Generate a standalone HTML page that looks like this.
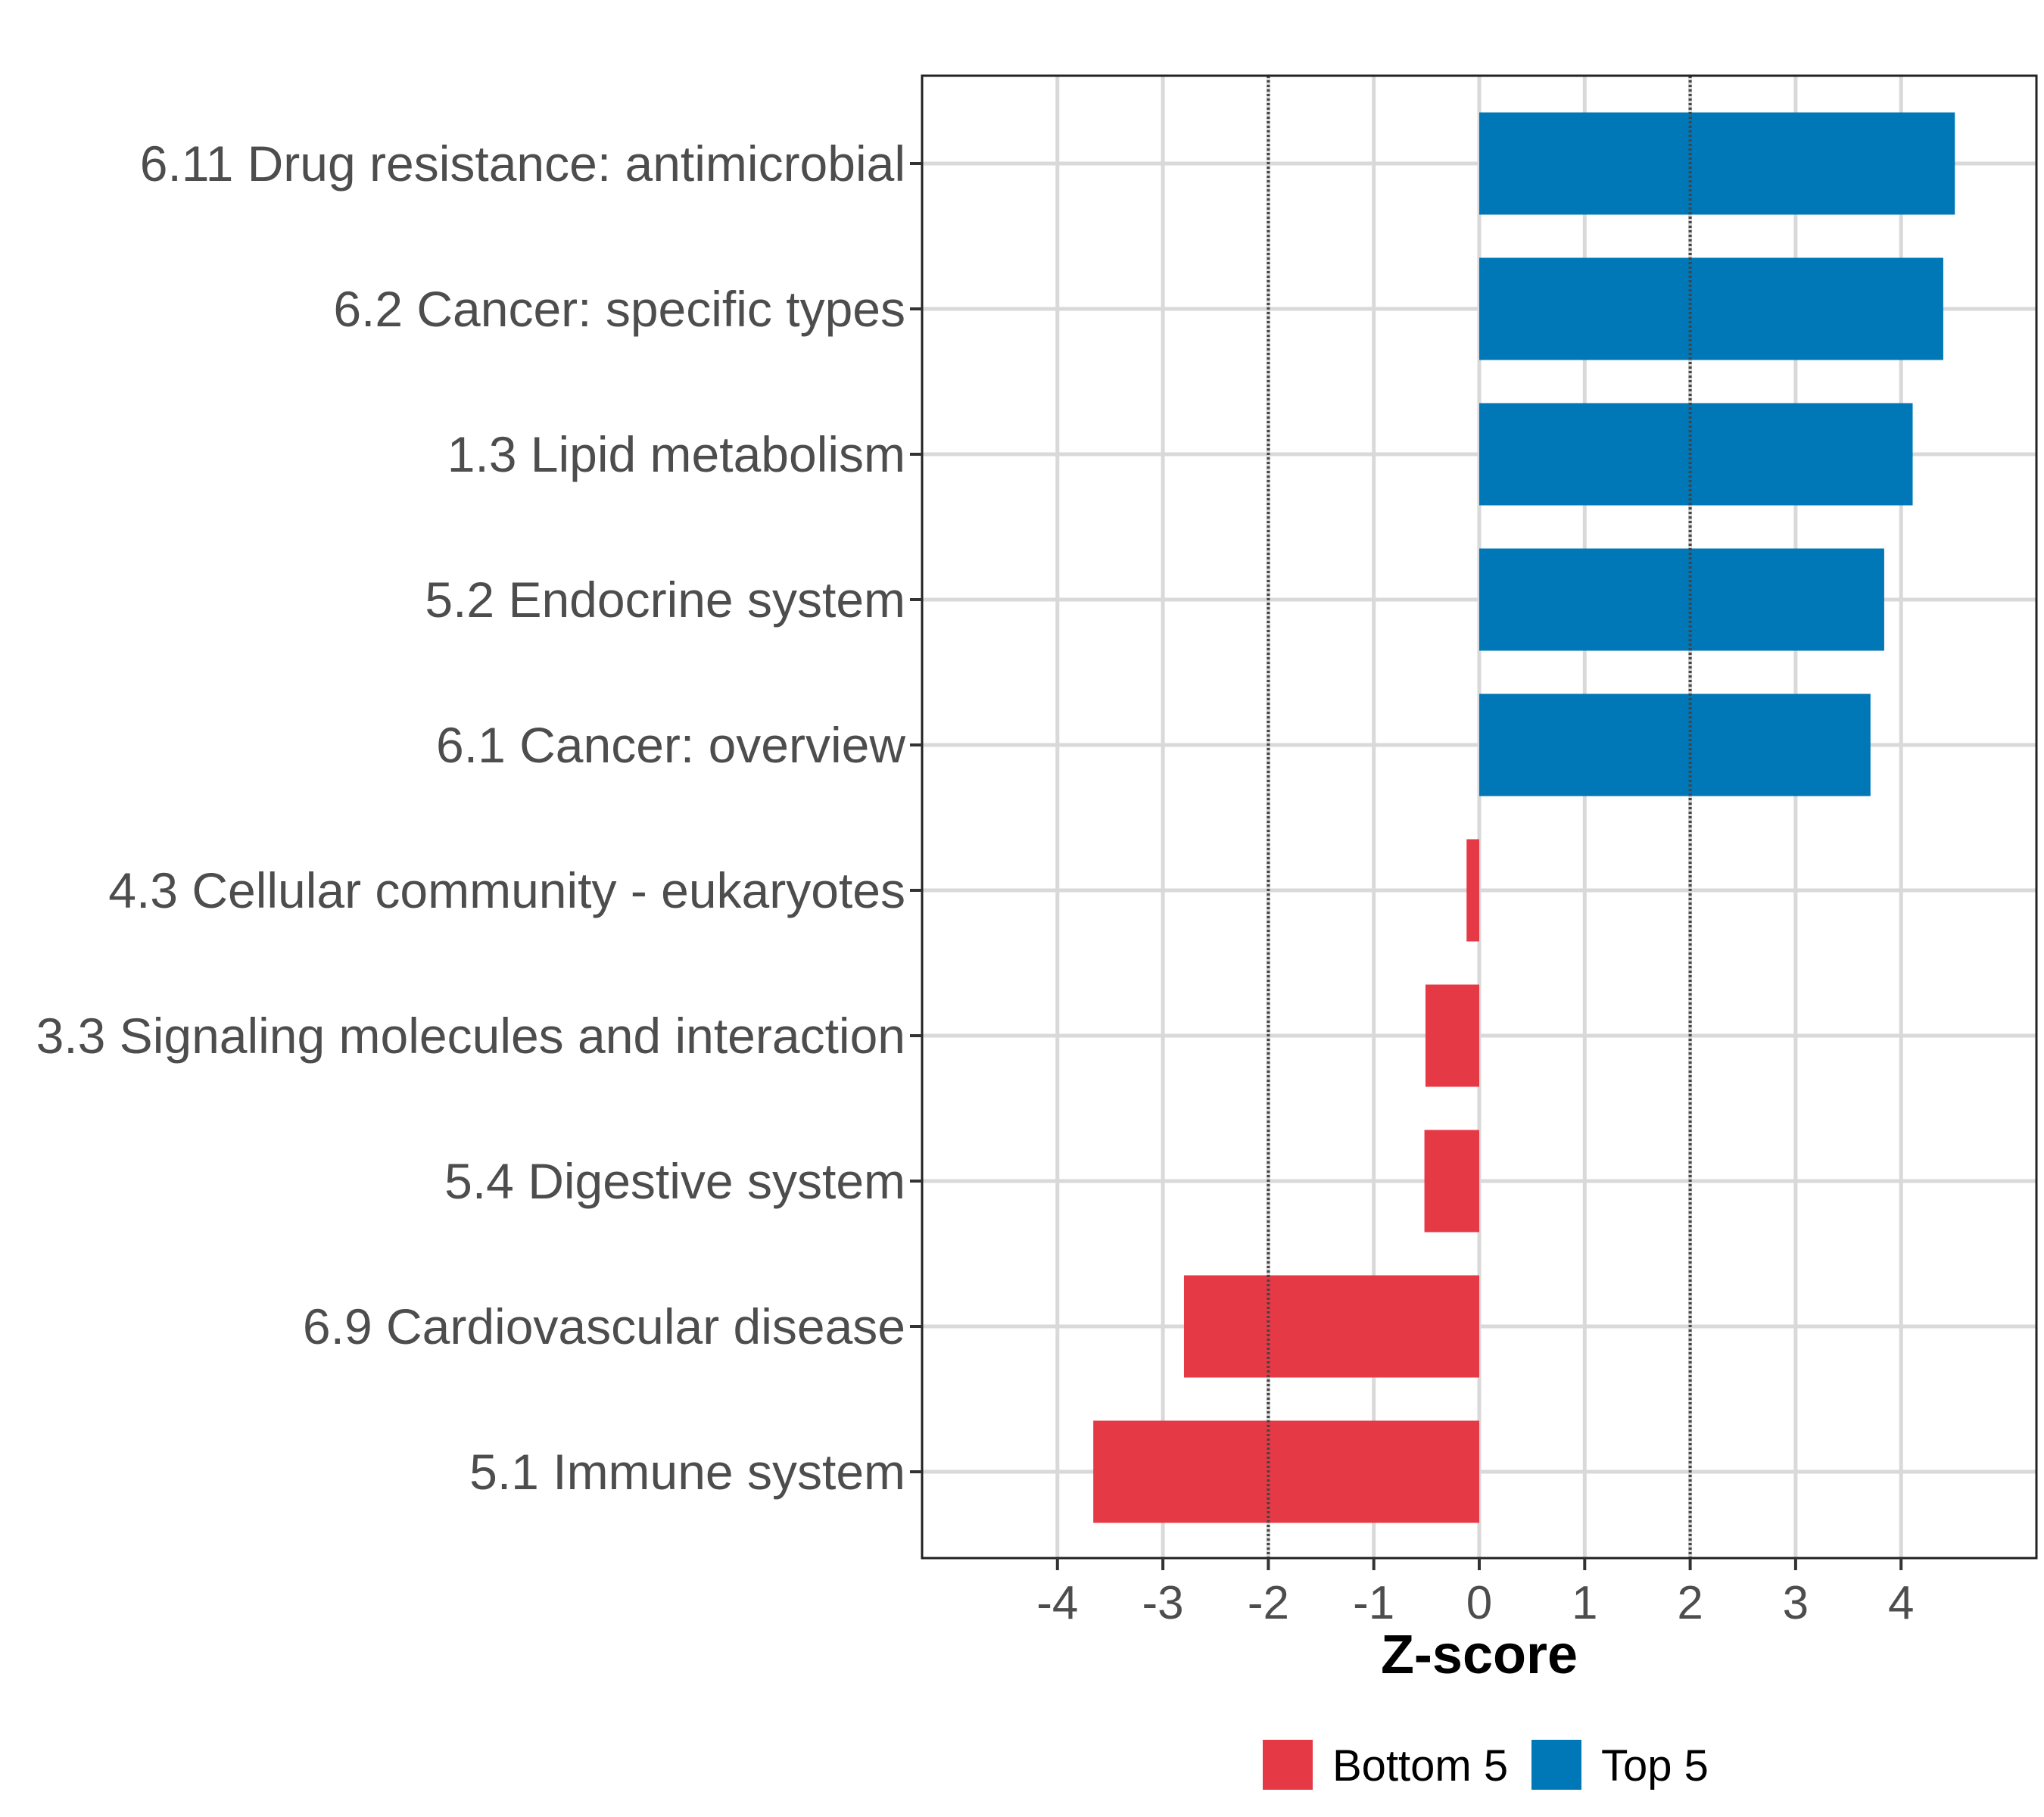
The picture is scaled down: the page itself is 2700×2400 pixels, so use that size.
<!DOCTYPE html>
<html><head><meta charset="utf-8"><style>
html,body{margin:0;padding:0;background:#fff}
svg{display:block}
text{font-family:"Liberation Sans",sans-serif}
</style></head><body>
<svg id="chart" width="2700" height="2400" viewBox="0 0 2700 2400" xmlns="http://www.w3.org/2000/svg">
<rect width="2700" height="2400" fill="#fff"/>
<g id="grid"></g>
<g id="bars"></g>
<g id="refs"></g>
<rect x="1218" y="100" width="1472" height="1958" fill="none" stroke="#222" stroke-width="3"/>
<g id="yaxis"></g>
<g id="xaxis"></g>
<text x="1954" y="2210" font-size="72" font-weight="bold" text-anchor="middle" fill="#000">Z-score</text>
<g>
<rect x="1668" y="2298" width="66" height="66" fill="#E63946"/>
<text x="1760" y="2352" font-size="58" fill="#000">Bottom 5</text>
<rect x="2023" y="2298" width="66" height="66" fill="#0077B6"/>
<text x="2115" y="2352" font-size="58" fill="#000">Top 5</text>
</g>
</svg>
<script>
const categories=["6.11 Drug resistance: antimicrobial","6.2 Cancer: specific types","1.3 Lipid metabolism","5.2 Endocrine system","6.1 Cancer: overview","4.3 Cellular community - eukaryotes","3.3 Signaling molecules and interaction","5.4 Digestive system","6.9 Cardiovascular disease","5.1 Immune system"];
const zscores=[4.51,4.40,4.11,3.84,3.71,-0.12,-0.51,-0.52,-2.80,-3.66];
const groups=["Top 5","Top 5","Top 5","Top 5","Top 5","Bottom 5","Bottom 5","Bottom 5","Bottom 5","Bottom 5"];
const xTicks=[-4,-3,-2,-1,0,1,2,3,4];
const refLines=[-2,2];
const NS="http://www.w3.org/2000/svg";
const L=1218,R=2690,T=100,B=2058;
const x=v=>1954+v*139.3;
const y=i=>216+i*192;
const bh=135;
function mk(tag,attrs,parent){const e=document.createElementNS(NS,tag);for(const k in attrs)e.setAttribute(k,attrs[k]);parent.appendChild(e);return e;}
const grid=document.getElementById('grid'),bars=document.getElementById('bars'),refs=document.getElementById('refs'),ya=document.getElementById('yaxis'),xa=document.getElementById('xaxis');
xTicks.forEach(t=>{
 const g=mk('line',{x1:x(t),x2:x(t),y1:T,y2:B,stroke:'#d9d9d9','stroke-width':5},grid);
 
 
 const tk=mk('line',{x1:x(t),x2:x(t),y1:B,y2:B+16,stroke:'#333','stroke-width':4},xa);
 
 
 const tx=mk('text',{x:x(t),y:B+80,'font-size':62,'text-anchor':'middle',fill:'#4d4d4d'},xa);
 tx.textContent=String(t);
 
 
});
categories.forEach((c,i)=>{
 const g=mk('line',{x1:L,x2:R,y1:y(i),y2:y(i),stroke:'#d9d9d9','stroke-width':5},grid);
 
 
 const v=zscores[i];
 const r=mk('rect',{x:Math.min(x(0),x(v)),y:y(i)-bh/2,width:Math.abs(x(v)-x(0)),height:bh,fill:groups[i]==="Top 5"?'#0077B6':'#E63946'},bars);
 
 
 const tk=mk('line',{x1:L-16,x2:L,y1:y(i),y2:y(i),stroke:'#333','stroke-width':4},ya);
 
 
 const tx=mk('text',{x:L-22,y:y(i)+23,'font-size':66,'text-anchor':'end',fill:'#4d4d4d'},ya);
 tx.textContent=c;
 
 
});
refLines.forEach(v=>{
 const l=mk('line',{x1:x(v),x2:x(v),y1:T,y2:B,stroke:'#444','stroke-width':4,'stroke-dasharray':'3 3'},refs);
 
 
});
</script>
</body></html>
